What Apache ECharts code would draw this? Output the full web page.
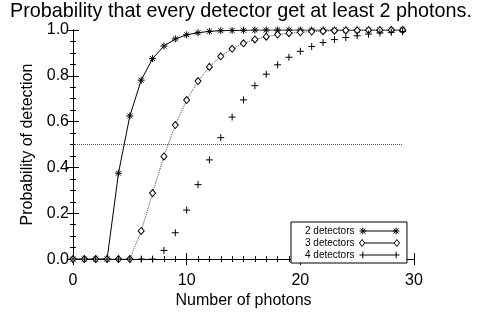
<!DOCTYPE html>
<html><head><meta charset="utf-8">
<script src="https://cdn.jsdelivr.net/npm/echarts@6/dist/echarts.min.js"></script>
<style>html,body{margin:0;padding:0;background:#fff}#c{width:482px;height:314px}</style>
</head><body><div id="c"></div>
<script>
const titleText = "Probability that every detector get at least 2 photons.";
const xName = "Number of photons";
const yName = "Probability of detection";
const photons = [0,1,2,3,4,5,6,7,8,9,10,11,12,13,14,15,16,17,18,19,20,21,22,23,24,25,26,27,28,29];
const det2 = [0,0,0,0,0.375,0.625,0.781,0.875,0.930,0.961,0.979,0.988,0.994,0.997,0.998,0.999,1,1,1,1,1,1,1,1,1,1,1,1,1,1];
const det3 = [0,0,0,0,0,0,0.123,0.288,0.448,0.585,0.694,0.777,0.839,0.885,0.918,0.942,0.959,0.971,0.980,0.986,0.990,0.993,0.995,0.997,0.998,0.998,0.999,0.999,1,1];
const det4 = [0,0,0,0,0,0,0,0,0.038,0.115,0.214,0.325,0.433,0.530,0.620,0.695,0.757,0.807,0.848,0.881,0.907,0.928,0.945,0.958,0.967,0.975,0.982,0.987,0.990,0.993];
const seriesNames = ["2 detectors","3 detectors","4 detectors"];
const refLevel = 0.5;
const refRange = [0, 29];

const FONT = "Liberation Sans, Arial, sans-serif";
const asterisk = 'path://M0,-10L0,10M-10,0L10,0M-7,-7L7,7M-7,7L7,-7';
const plus = 'path://M0,-10L0,10M-10,0L10,0';
// legend icons: line sample with the symbol at both ends
const legAst = 'path://M0,0L40,0M0,-4L0,4M-4,0L4,0M-3,-3L3,3M-3,3L3,-3M40,-4L40,4M36,0L44,0M37,-3L43,3M37,3L43,-3';
const legDia = 'path://M3,0L37,0M0,-4L3,0L0,4L-3,0ZM40,-4L43,0L40,4L37,0Z';
const legPlus = 'path://M-4,0L44,0M0,-4L0,4M40,-4L40,4';
const pair = ys => photons.map((x,i)=>[x, ys[i]]);

const chart = echarts.init(document.getElementById('c'), null, {renderer:'canvas'});
const axisCommon = {
  min: 0, axisLine:{lineStyle:{color:'#000',width:1}},
  axisTick:{inside:true,length:6,lineStyle:{color:'#000'}},
  splitLine:{show:false}
};
const legStyle = fill => ({color:fill,borderColor:'#000',borderWidth:1});
chart.setOption({
  animation:false,
  title:{text:titleText,left:'center',top:-3,textStyle:{fontFamily:FONT,fontSize:19.8,fontWeight:'normal',color:'#000'}},
  grid:{left:73,right:68,top:30,bottom:46},
  legend:{
    left:291, top:222, orient:'vertical', align:'right',
    padding:[4,7,3,14], itemWidth:40, itemHeight:8, itemGap:2,
    borderColor:'#000', borderWidth:1, backgroundColor:'#fff',
    textStyle:{fontFamily:FONT,fontSize:10,color:'#000'},
    data:[
      {name:seriesNames[0], icon:legAst, itemStyle:legStyle('#000')},
      {name:seriesNames[1], icon:legDia, itemStyle:legStyle('#fff')},
      {name:seriesNames[2], icon:legPlus, itemStyle:legStyle('#000')}
    ]
  },
  xAxis:[
    Object.assign({}, axisCommon, {type:'value', max:30, interval:10, position:'bottom',
      minorTick:{show:true,splitNumber:10,length:3,lineStyle:{color:'#000'}},
      name:xName, nameLocation:'middle', nameGap:23,
      nameTextStyle:{fontFamily:FONT,fontSize:16,color:'#000'},
      axisLabel:{fontFamily:FONT,fontSize:16,color:'#000',margin:13}}),
    Object.assign({}, axisCommon, {type:'value', max:30, interval:10, position:'top',
      minorTick:{show:true,splitNumber:10,length:3,lineStyle:{color:'#000'}},
      axisLabel:{show:false}})
  ],
  yAxis:[
    Object.assign({}, axisCommon, {type:'value', max:1, interval:0.2, position:'left',
      minorTick:{show:true,splitNumber:4,length:3,lineStyle:{color:'#000'}},
      name:yName, nameLocation:'middle', nameGap:33,
      nameTextStyle:{fontFamily:FONT,fontSize:16,color:'#000'},
      axisLabel:{fontFamily:FONT,fontSize:16,color:'#000',margin:4,formatter:v=>v.toFixed(1)}}),
    Object.assign({}, axisCommon, {type:'value', max:1, interval:0.2, position:'right',
      minorTick:{show:true,splitNumber:4,length:3,lineStyle:{color:'#000'}},
      axisLabel:{show:false}})
  ],
  series:[
    {name:seriesNames[0], type:'line', data:pair(det2), symbol:asterisk, symbolSize:7,
      itemStyle:{color:'#000',borderColor:'#000',borderWidth:1},
      lineStyle:{color:'#000',width:1}, z:3,
      markLine:{silent:true,symbol:['none','none'],label:{show:false},
        lineStyle:{type:'dotted',color:'#555',width:1},
        data:[[{coord:[refRange[0],refLevel]},{coord:[refRange[1],refLevel]}]]}},
    {name:seriesNames[1], type:'line', data:pair(det3), symbol:'diamond', symbolSize:[6,7],
      itemStyle:{color:'#fff',borderColor:'#000',borderWidth:1},
      lineStyle:{color:'#444',width:1,type:'dotted'}},
    {name:seriesNames[2], type:'line', data:pair(det4), symbol:plus, symbolSize:7,
      itemStyle:{color:'#000',borderColor:'#000',borderWidth:1},
      lineStyle:{width:0,opacity:0}}
  ]
});
</script></body></html>
